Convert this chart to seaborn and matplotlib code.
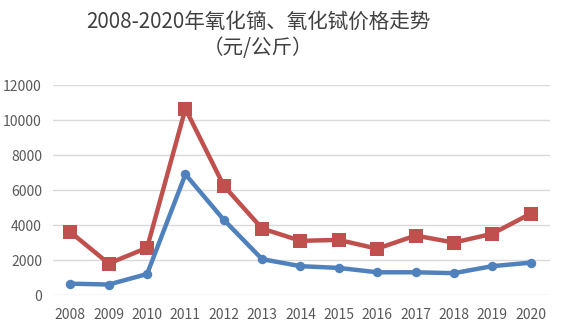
import matplotlib
matplotlib.use("Agg")
import matplotlib.pyplot as plt
import seaborn as sns
import pandas as pd

# Annual prices, yuan per kg
years = ["2008", "2009", "2010", "2011", "2012", "2013", "2014",
         "2015", "2016", "2017", "2018", "2019", "2020"]
dy2o3_price = [3600, 1800, 2700, 10650, 6250, 3800, 3100,
               3150, 2650, 3400, 3000, 3500, 4650]
tb_oxide_price = [650, 600, 1200, 6900, 4300, 2050, 1650,
                  1550, 1300, 1300, 1250, 1650, 1850]
series_names = ["氧化镝", "氧化铽"]
y_ticks = [0, 2000, 4000, 6000, 8000, 10000, 12000]

df = pd.DataFrame({
    "year": years * 2,
    "price": dy2o3_price + tb_oxide_price,
    "series": [series_names[0]] * len(years) + [series_names[1]] * len(years),
})

sns.set_theme(style="white")
plt.rcParams["font.family"] = ["Noto Sans CJK SC", "DejaVu Sans"]

fig = plt.figure(figsize=(5.65, 3.30), dpi=100)
ax = fig.add_axes([0.094, 0.106, 0.879, 0.636])

red = "#C0504D"
blue = "#4F81BD"

sns.lineplot(data=df, x="year", y="price", hue="series", style="series",
             palette={series_names[0]: red, series_names[1]: blue},
             markers={series_names[0]: "s", series_names[1]: "o"},
             dashes=False, linewidth=3.2, legend=False, ax=ax,
             markeredgewidth=0, sort=False)
for line in ax.get_lines():
    if line.get_marker() == "s":
        line.set_markersize(9.5)
    else:
        line.set_markersize(6.8)

ax.set_xlim(-0.45, 12.5)
ax.set_ylim(0, 12000)
ax.set_yticks(y_ticks)
ax.set_yticklabels([str(v) for v in y_ticks])
ax.yaxis.grid(True, color="#D9D9D9", linewidth=1.0)
ax.set_axisbelow(True)
for s in ax.spines.values():
    s.set_visible(False)
ax.tick_params(axis="both", length=0, labelsize=10, labelcolor="#595959")
ax.tick_params(axis="x", pad=9)
ax.tick_params(axis="y", pad=8)
ax.set_xlabel("")
ax.set_ylabel("")

fig.text(0.457, 0.933, "2008-2020年氧化镝、氧化铽价格走势", ha="center", va="center",
         fontsize=14.8, color="#404040")
fig.text(0.457, 0.855, "（元/公斤）", ha="center", va="center",
         fontsize=14.8, color="#404040")

fig.savefig("out.png", dpi=100, facecolor="white")
